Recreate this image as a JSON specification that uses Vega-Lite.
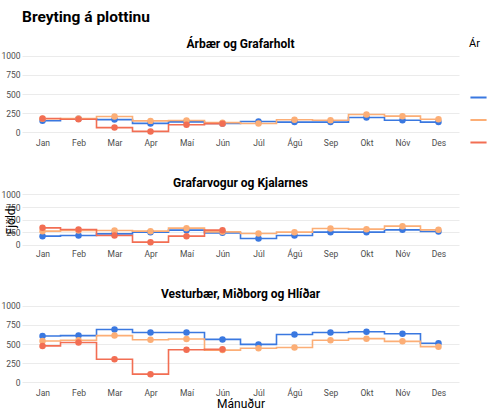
{
  "$schema": "https://vega.github.io/schema/vega-lite/v6.json",
  "padding": {"left": 0, "top": 10, "right": 0, "bottom": 2},
  "title": {"text": "Breyting á plottinu", "anchor": "start", "frame": "group", "fontSize": 15.5, "fontWeight": "bold", "font": "Roboto", "color": "#000000", "offset": 12},
  "datasets": {
    "d": [
      {"hverfi": "Árbær og Grafarholt", "ar": "2018", "manudur": "Jan", "fjoldi": 150},
      {"hverfi": "Árbær og Grafarholt", "ar": "2018", "manudur": "Feb", "fjoldi": 175},
      {"hverfi": "Árbær og Grafarholt", "ar": "2018", "manudur": "Mar", "fjoldi": 165},
      {"hverfi": "Árbær og Grafarholt", "ar": "2018", "manudur": "Apr", "fjoldi": 115},
      {"hverfi": "Árbær og Grafarholt", "ar": "2018", "manudur": "Maí", "fjoldi": 135},
      {"hverfi": "Árbær og Grafarholt", "ar": "2018", "manudur": "Jún", "fjoldi": 115},
      {"hverfi": "Árbær og Grafarholt", "ar": "2018", "manudur": "Júl", "fjoldi": 140},
      {"hverfi": "Árbær og Grafarholt", "ar": "2018", "manudur": "Ágú", "fjoldi": 132},
      {"hverfi": "Árbær og Grafarholt", "ar": "2018", "manudur": "Sep", "fjoldi": 132},
      {"hverfi": "Árbær og Grafarholt", "ar": "2018", "manudur": "Okt", "fjoldi": 192},
      {"hverfi": "Árbær og Grafarholt", "ar": "2018", "manudur": "Nóv", "fjoldi": 157},
      {"hverfi": "Árbær og Grafarholt", "ar": "2018", "manudur": "Des", "fjoldi": 132},
      {"hverfi": "Árbær og Grafarholt", "ar": "2019", "manudur": "Jan", "fjoldi": 175},
      {"hverfi": "Árbær og Grafarholt", "ar": "2019", "manudur": "Feb", "fjoldi": 180},
      {"hverfi": "Árbær og Grafarholt", "ar": "2019", "manudur": "Mar", "fjoldi": 205},
      {"hverfi": "Árbær og Grafarholt", "ar": "2019", "manudur": "Apr", "fjoldi": 148},
      {"hverfi": "Árbær og Grafarholt", "ar": "2019", "manudur": "Maí", "fjoldi": 153},
      {"hverfi": "Árbær og Grafarholt", "ar": "2019", "manudur": "Jún", "fjoldi": 125},
      {"hverfi": "Árbær og Grafarholt", "ar": "2019", "manudur": "Júl", "fjoldi": 114},
      {"hverfi": "Árbær og Grafarholt", "ar": "2019", "manudur": "Ágú", "fjoldi": 162},
      {"hverfi": "Árbær og Grafarholt", "ar": "2019", "manudur": "Sep", "fjoldi": 157},
      {"hverfi": "Árbær og Grafarholt", "ar": "2019", "manudur": "Okt", "fjoldi": 231},
      {"hverfi": "Árbær og Grafarholt", "ar": "2019", "manudur": "Nóv", "fjoldi": 210},
      {"hverfi": "Árbær og Grafarholt", "ar": "2019", "manudur": "Des", "fjoldi": 170},
      {"hverfi": "Árbær og Grafarholt", "ar": "2020", "manudur": "Jan", "fjoldi": 180},
      {"hverfi": "Árbær og Grafarholt", "ar": "2020", "manudur": "Feb", "fjoldi": 170},
      {"hverfi": "Árbær og Grafarholt", "ar": "2020", "manudur": "Mar", "fjoldi": 60},
      {"hverfi": "Árbær og Grafarholt", "ar": "2020", "manudur": "Apr", "fjoldi": 10},
      {"hverfi": "Árbær og Grafarholt", "ar": "2020", "manudur": "Maí", "fjoldi": 98},
      {"hverfi": "Árbær og Grafarholt", "ar": "2020", "manudur": "Jún", "fjoldi": 112},
      {"hverfi": "Grafarvogur og Kjalarnes", "ar": "2018", "manudur": "Jan", "fjoldi": 167},
      {"hverfi": "Grafarvogur og Kjalarnes", "ar": "2018", "manudur": "Feb", "fjoldi": 180},
      {"hverfi": "Grafarvogur og Kjalarnes", "ar": "2018", "manudur": "Mar", "fjoldi": 213},
      {"hverfi": "Grafarvogur og Kjalarnes", "ar": "2018", "manudur": "Apr", "fjoldi": 247},
      {"hverfi": "Grafarvogur og Kjalarnes", "ar": "2018", "manudur": "Maí", "fjoldi": 287},
      {"hverfi": "Grafarvogur og Kjalarnes", "ar": "2018", "manudur": "Jún", "fjoldi": 233},
      {"hverfi": "Grafarvogur og Kjalarnes", "ar": "2018", "manudur": "Júl", "fjoldi": 120},
      {"hverfi": "Grafarvogur og Kjalarnes", "ar": "2018", "manudur": "Ágú", "fjoldi": 180},
      {"hverfi": "Grafarvogur og Kjalarnes", "ar": "2018", "manudur": "Sep", "fjoldi": 247},
      {"hverfi": "Grafarvogur og Kjalarnes", "ar": "2018", "manudur": "Okt", "fjoldi": 247},
      {"hverfi": "Grafarvogur og Kjalarnes", "ar": "2018", "manudur": "Nóv", "fjoldi": 293},
      {"hverfi": "Grafarvogur og Kjalarnes", "ar": "2018", "manudur": "Des", "fjoldi": 260},
      {"hverfi": "Grafarvogur og Kjalarnes", "ar": "2019", "manudur": "Jan", "fjoldi": 267},
      {"hverfi": "Grafarvogur og Kjalarnes", "ar": "2019", "manudur": "Feb", "fjoldi": 280},
      {"hverfi": "Grafarvogur og Kjalarnes", "ar": "2019", "manudur": "Mar", "fjoldi": 280},
      {"hverfi": "Grafarvogur og Kjalarnes", "ar": "2019", "manudur": "Apr", "fjoldi": 267},
      {"hverfi": "Grafarvogur og Kjalarnes", "ar": "2019", "manudur": "Maí", "fjoldi": 327},
      {"hverfi": "Grafarvogur og Kjalarnes", "ar": "2019", "manudur": "Jún", "fjoldi": 253},
      {"hverfi": "Grafarvogur og Kjalarnes", "ar": "2019", "manudur": "Júl", "fjoldi": 220},
      {"hverfi": "Grafarvogur og Kjalarnes", "ar": "2019", "manudur": "Ágú", "fjoldi": 247},
      {"hverfi": "Grafarvogur og Kjalarnes", "ar": "2019", "manudur": "Sep", "fjoldi": 320},
      {"hverfi": "Grafarvogur og Kjalarnes", "ar": "2019", "manudur": "Okt", "fjoldi": 307},
      {"hverfi": "Grafarvogur og Kjalarnes", "ar": "2019", "manudur": "Nóv", "fjoldi": 367},
      {"hverfi": "Grafarvogur og Kjalarnes", "ar": "2019", "manudur": "Des", "fjoldi": 293},
      {"hverfi": "Grafarvogur og Kjalarnes", "ar": "2020", "manudur": "Jan", "fjoldi": 333},
      {"hverfi": "Grafarvogur og Kjalarnes", "ar": "2020", "manudur": "Feb", "fjoldi": 300},
      {"hverfi": "Grafarvogur og Kjalarnes", "ar": "2020", "manudur": "Mar", "fjoldi": 180},
      {"hverfi": "Grafarvogur og Kjalarnes", "ar": "2020", "manudur": "Apr", "fjoldi": 47},
      {"hverfi": "Grafarvogur og Kjalarnes", "ar": "2020", "manudur": "Maí", "fjoldi": 167},
      {"hverfi": "Grafarvogur og Kjalarnes", "ar": "2020", "manudur": "Jún", "fjoldi": 287},
      {"hverfi": "Vesturbær, Miðborg og Hlíðar", "ar": "2018", "manudur": "Jan", "fjoldi": 605},
      {"hverfi": "Vesturbær, Miðborg og Hlíðar", "ar": "2018", "manudur": "Feb", "fjoldi": 610},
      {"hverfi": "Vesturbær, Miðborg og Hlíðar", "ar": "2018", "manudur": "Mar", "fjoldi": 690},
      {"hverfi": "Vesturbær, Miðborg og Hlíðar", "ar": "2018", "manudur": "Apr", "fjoldi": 650},
      {"hverfi": "Vesturbær, Miðborg og Hlíðar", "ar": "2018", "manudur": "Maí", "fjoldi": 650},
      {"hverfi": "Vesturbær, Miðborg og Hlíðar", "ar": "2018", "manudur": "Jún", "fjoldi": 560},
      {"hverfi": "Vesturbær, Miðborg og Hlíðar", "ar": "2018", "manudur": "Júl", "fjoldi": 495},
      {"hverfi": "Vesturbær, Miðborg og Hlíðar", "ar": "2018", "manudur": "Ágú", "fjoldi": 625},
      {"hverfi": "Vesturbær, Miðborg og Hlíðar", "ar": "2018", "manudur": "Sep", "fjoldi": 650},
      {"hverfi": "Vesturbær, Miðborg og Hlíðar", "ar": "2018", "manudur": "Okt", "fjoldi": 660},
      {"hverfi": "Vesturbær, Miðborg og Hlíðar", "ar": "2018", "manudur": "Nóv", "fjoldi": 635},
      {"hverfi": "Vesturbær, Miðborg og Hlíðar", "ar": "2018", "manudur": "Des", "fjoldi": 510},
      {"hverfi": "Vesturbær, Miðborg og Hlíðar", "ar": "2019", "manudur": "Jan", "fjoldi": 540},
      {"hverfi": "Vesturbær, Miðborg og Hlíðar", "ar": "2019", "manudur": "Feb", "fjoldi": 550},
      {"hverfi": "Vesturbær, Miðborg og Hlíðar", "ar": "2019", "manudur": "Mar", "fjoldi": 610},
      {"hverfi": "Vesturbær, Miðborg og Hlíðar", "ar": "2019", "manudur": "Apr", "fjoldi": 555},
      {"hverfi": "Vesturbær, Miðborg og Hlíðar", "ar": "2019", "manudur": "Maí", "fjoldi": 565},
      {"hverfi": "Vesturbær, Miðborg og Hlíðar", "ar": "2019", "manudur": "Jún", "fjoldi": 420},
      {"hverfi": "Vesturbær, Miðborg og Hlíðar", "ar": "2019", "manudur": "Júl", "fjoldi": 445},
      {"hverfi": "Vesturbær, Miðborg og Hlíðar", "ar": "2019", "manudur": "Ágú", "fjoldi": 455},
      {"hverfi": "Vesturbær, Miðborg og Hlíðar", "ar": "2019", "manudur": "Sep", "fjoldi": 550},
      {"hverfi": "Vesturbær, Miðborg og Hlíðar", "ar": "2019", "manudur": "Okt", "fjoldi": 570},
      {"hverfi": "Vesturbær, Miðborg og Hlíðar", "ar": "2019", "manudur": "Nóv", "fjoldi": 535},
      {"hverfi": "Vesturbær, Miðborg og Hlíðar", "ar": "2019", "manudur": "Des", "fjoldi": 465},
      {"hverfi": "Vesturbær, Miðborg og Hlíðar", "ar": "2020", "manudur": "Jan", "fjoldi": 475},
      {"hverfi": "Vesturbær, Miðborg og Hlíðar", "ar": "2020", "manudur": "Feb", "fjoldi": 520},
      {"hverfi": "Vesturbær, Miðborg og Hlíðar", "ar": "2020", "manudur": "Mar", "fjoldi": 300},
      {"hverfi": "Vesturbær, Miðborg og Hlíðar", "ar": "2020", "manudur": "Apr", "fjoldi": 105},
      {"hverfi": "Vesturbær, Miðborg og Hlíðar", "ar": "2020", "manudur": "Maí", "fjoldi": 425},
      {"hverfi": "Vesturbær, Miðborg og Hlíðar", "ar": "2020", "manudur": "Jún", "fjoldi": 430}
    ]
  },
  "data": {"name": "d"},
  "vconcat": [
    {
      "width": 437, "height": 84,
      "title": {"text": "Árbær og Grafarholt"},
      "transform": [{"filter": "datum.hverfi === 'Árbær og Grafarholt'"}],
      "encoding": {
        "x": {"field": "manudur", "type": "ordinal", "scale": {"type": "point", "padding": 0.57, "domain": ["Jan","Feb","Mar","Apr","Maí","Jún","Júl","Ágú","Sep","Okt","Nóv","Des"]}, "axis": {"title": null, "labelAngle": 0}},
        "y": {"field": "fjoldi", "type": "quantitative", "scale": {"domain": [-50, 1050], "nice": false, "zero": false}, "axis": {"values": [0,250,500,750,1000], "format": "d", "title": null}},
        "color": {"field": "ar", "type": "nominal", "scale": {"domain": ["2018","2019","2020"], "range": ["#3A78E0","#FCAE76","#F26E53"]}, "legend": {"title": "Ár", "symbolType": "stroke", "orient": "none", "legendX": 447, "legendY": -14}}
      },
      "layer": [
        {"mark": {"type": "line", "interpolate": "step", "strokeWidth": 1.6}},
        {"mark": {"type": "circle", "size": 42, "opacity": 1}}
      ]
    },
    {
      "width": 437, "height": 55,
      "title": {"text": "Grafarvogur og Kjalarnes"},
      "transform": [{"filter": "datum.hverfi === 'Grafarvogur og Kjalarnes'"}],
      "encoding": {
        "x": {"field": "manudur", "type": "ordinal", "scale": {"type": "point", "padding": 0.57, "domain": ["Jan","Feb","Mar","Apr","Maí","Jún","Júl","Ágú","Sep","Okt","Nóv","Des"]}, "axis": {"title": null, "labelAngle": 0}},
        "y": {"field": "fjoldi", "type": "quantitative", "scale": {"domain": [-50, 1050], "nice": false, "zero": false}, "axis": {"values": [0,250,500,750,1000], "format": "d", "title": "Fjöldi", "titleX": -12, "titleBaseline": "middle", "titleFontSize": 12, "titleFontWeight": "normal", "titleColor": "#000000"}},
        "color": {"field": "ar", "type": "nominal", "scale": {"domain": ["2018","2019","2020"], "range": ["#3A78E0","#FCAE76","#F26E53"]}, "legend": {"title": "Ár", "symbolType": "stroke", "orient": "none", "legendX": 447, "legendY": -14}}
      },
      "layer": [
        {"mark": {"type": "line", "interpolate": "step", "strokeWidth": 1.6}},
        {"mark": {"type": "circle", "size": 42, "opacity": 1}}
      ]
    },
    {
      "width": 437, "height": 84,
      "title": {"text": "Vesturbær, Miðborg og Hlíðar"},
      "transform": [{"filter": "datum.hverfi === 'Vesturbær, Miðborg og Hlíðar'"}],
      "encoding": {
        "x": {"field": "manudur", "type": "ordinal", "scale": {"type": "point", "padding": 0.57, "domain": ["Jan","Feb","Mar","Apr","Maí","Jún","Júl","Ágú","Sep","Okt","Nóv","Des"]}, "axis": {"title": "Mánuður", "labelAngle": 0, "titleFontSize": 12, "titleFontWeight": "normal", "titleColor": "#000000", "titlePadding": 2}},
        "y": {"field": "fjoldi", "type": "quantitative", "scale": {"domain": [-50, 1050], "nice": false, "zero": false}, "axis": {"values": [0,250,500,750,1000], "format": "d", "title": null}},
        "color": {"field": "ar", "type": "nominal", "scale": {"domain": ["2018","2019","2020"], "range": ["#3A78E0","#FCAE76","#F26E53"]}, "legend": {"title": "Ár", "symbolType": "stroke", "orient": "none", "legendX": 447, "legendY": -14}}
      },
      "layer": [
        {"mark": {"type": "line", "interpolate": "step", "strokeWidth": 1.6}},
        {"mark": {"type": "circle", "size": 42, "opacity": 1}}
      ]
    }
  ],
  "config": {
    "font": "Roboto",
    "view": {"stroke": null},
    "concat": {"spacing": 29},
    "title": {"fontSize": 12, "fontWeight": "bold", "anchor": "middle", "offset": 1, "color": "#000000"},
    "axis": {"domain": false, "ticks": false, "gridColor": "#ebebeb", "gridWidth": 1, "labelColor": "#4d4d4d", "labelFontSize": 8.5, "labelPadding": 2},
    "legend": {"symbolType": "stroke", "titleFontSize": 11, "titleFontWeight": "normal", "titleColor": "#000000", "titlePadding": 39, "rowPadding": 7.5, "symbolStrokeWidth": 2, "symbolSize": 260, "labelFontSize": 10}
  }
}
